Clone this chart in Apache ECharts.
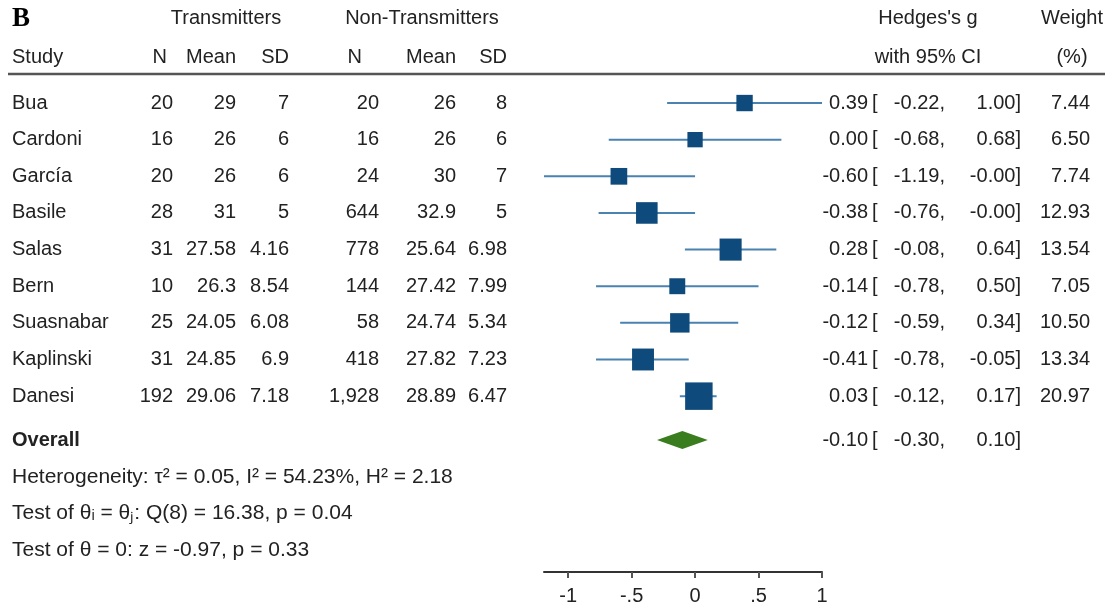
<!DOCTYPE html>
<html>
<head>
<meta charset="utf-8">
<script src="https://cdn.jsdelivr.net/npm/echarts@6/dist/echarts.min.js"></script>
<style>
  html, body { margin: 0; padding: 0; background: #fff; }
  #chart { width: 1113px; height: 608px; }
</style>
</head>
<body>
<div id="chart"></div>
<script>
// ---------- data ----------
const studies = ['Bua', 'Cardoni', 'García', 'Basile', 'Salas', 'Bern', 'Suasnabar', 'Kaplinski', 'Danesi'];
const transN = [20, 16, 20, 28, 31, 10, 25, 31, 192];
const transMean = [29, 26, 26, 31, 27.58, 26.3, 24.05, 24.85, 29.06];
const transSD = [7, 6, 6, 5, 4.16, 8.54, 6.08, 6.9, 7.18];
const nonN = [20, 16, 24, 644, 778, 144, 58, 418, 1928];
const nonMean = [26, 26, 30, 32.9, 25.64, 27.42, 24.74, 27.82, 28.89];
const nonSD = [8, 6, 7, 5, 6.98, 7.99, 5.34, 7.23, 6.47];
const hedgesG = [0.39, 0.00, -0.60, -0.38, 0.28, -0.14, -0.12, -0.41, 0.03];
const ciLow = [-0.22, -0.68, -1.19, -0.76, -0.08, -0.78, -0.59, -0.78, -0.12];
const ciHigh = [1.00, 0.68, -0.00, -0.00, 0.64, 0.50, 0.34, -0.05, 0.17];
const weights = [7.44, 6.50, 7.74, 12.93, 13.54, 7.05, 10.50, 13.34, 20.97];
const overallG = -0.10, overallLow = -0.30, overallHigh = 0.10;
const footerLines = [
  'Heterogeneity: τ² = 0.05, I² = 54.23%, H² = 2.18',
  'Test of θᵢ = θⱼ: Q(8) = 16.38, p = 0.04',
  'Test of θ = 0: z = -0.97, p = 0.33'
];
const xTicks = [-1, -0.5, 0, 0.5, 1];
const xTickLabels = ['-1', '-.5', '0', '.5', '1'];

// ---------- layout constants ----------
const FONT = '"Liberation Sans", Arial, sans-serif';
const FS = 20;
const TXT = '#222';
const overallRow = 9.2;
const footerRows = [10.2, 11.2, 12.2];

function fmt2(v) {
  if (v < 0 || Object.is(v, -0)) return '-' + Math.abs(v).toFixed(2);
  return v.toFixed(2);
}
function txt(x, y, s, align, opts) {
  opts = opts || {};
  return {
    type: 'text', x: x, y: y, silent: true,
    style: {
      text: s, align: align || 'left', verticalAlign: 'middle',
      font: (opts.weight || 'normal') + ' ' + (opts.size || FS) + 'px ' + (opts.family || FONT),
      fill: opts.color || TXT
    }
  };
}

const chart = echarts.init(document.getElementById('chart'), null, { renderer: 'canvas' });

const tableData = studies.map((s, i) => [0, i]);
const overallData = [[0, overallRow]];
const footerData = footerRows.map(r => [0, r]);

const option = {
  animation: false,
  backgroundColor: '#fff',
  grid: { left: 544, right: 291, top: 66.4, bottom: 36 },
  xAxis: {
    type: 'value', min: -1.19, max: 1.0, position: 'bottom',
    splitLine: { show: false },
    axisLine: { show: true, onZero: false, lineStyle: { color: '#333', width: 2 } },
    axisTick: { show: true, customValues: xTicks, length: 6, lineStyle: { color: '#555', width: 2 } },
    axisLabel: {
      customValues: xTicks, margin: 14, color: TXT, fontSize: FS, fontFamily: FONT,
      formatter: v => xTickLabels[xTicks.indexOf(v)]
    }
  },
  yAxis: { type: 'value', inverse: true, min: -1, max: 12.8, show: false },
  graphic: [
    txt(12, 19, 'B', 'left', { weight: 'bold', size: 27, family: '"Liberation Serif", serif', color: '#000' }),
    txt(226, 18, 'Transmitters', 'center'),
    txt(422, 18, 'Non-Transmitters', 'center'),
    txt(928, 18, "Hedges's g", 'center'),
    txt(1072, 18, 'Weight', 'center'),
    txt(12, 57, 'Study', 'left'),
    txt(167, 57, 'N', 'right'),
    txt(236, 57, 'Mean', 'right'),
    txt(289, 57, 'SD', 'right'),
    txt(362, 57, 'N', 'right'),
    txt(456, 57, 'Mean', 'right'),
    txt(507, 57, 'SD', 'right'),
    txt(928, 57, 'with 95% CI', 'center'),
    txt(1072, 57, '(%)', 'center'),
    { type: 'line', silent: true, shape: { x1: 8, y1: 74, x2: 1105, y2: 74 }, style: { stroke: '#555', lineWidth: 2.5 } }
  ],
  series: [
    { // confidence intervals
      type: 'custom', silent: true, clip: false,
      data: studies.map((s, i) => [ciLow[i], i, ciHigh[i]]),
      renderItem: (params, api) => {
        const a = api.coord([api.value(0), api.value(1)]);
        const b = api.coord([api.value(2), api.value(1)]);
        return { type: 'line', shape: { x1: a[0], y1: a[1], x2: b[0], y2: b[1] },
                 style: { stroke: '#4a82b0', lineWidth: 2 } };
      },
      z: 2
    },
    { // point estimates sized by weight
      type: 'scatter', silent: true, symbol: 'rect',
      data: studies.map((s, i) => [hedgesG[i], i, weights[i]]),
      symbolSize: v => 6 * Math.sqrt(v[2]),
      itemStyle: { color: '#0e4a7b', opacity: 1 },
      z: 3
    },
    { // overall diamond
      type: 'custom', silent: true, clip: false,
      data: [[overallLow, overallRow, overallG, overallHigh]],
      renderItem: (params, api) => {
        const l = api.coord([api.value(0), api.value(1)]);
        const c = api.coord([api.value(2), api.value(1)]);
        const r = api.coord([api.value(3), api.value(1)]);
        const h = 9;
        return { type: 'polygon',
                 shape: { points: [[l[0], l[1]], [c[0], c[1] - h], [r[0], r[1]], [c[0], c[1] + h]] },
                 style: { fill: '#3a7d1f' } };
      },
      z: 3
    },
    { // study text rows
      type: 'custom', silent: true, clip: false,
      data: tableData,
      renderItem: (params, api) => {
        const i = params.dataIndex;
        const y = api.coord([0, api.value(1)])[1];
        return { type: 'group', children: [
          txt(12, y, studies[i], 'left'),
          txt(173, y, String(transN[i]), 'right'),
          txt(236, y, String(transMean[i]), 'right'),
          txt(289, y, String(transSD[i]), 'right'),
          txt(379, y, nonN[i].toLocaleString('en-US'), 'right'),
          txt(456, y, String(nonMean[i]), 'right'),
          txt(507, y, String(nonSD[i]), 'right'),
          txt(868, y, fmt2(hedgesG[i]), 'right'),
          txt(872, y, '[', 'left'),
          txt(945, y, fmt2(ciLow[i]) + ',', 'right'),
          txt(1021, y, fmt2(ciHigh[i]) + ']', 'right'),
          txt(1090, y, weights[i].toFixed(2), 'right')
        ] };
      }
    },
    { // overall row text
      type: 'custom', silent: true, clip: false,
      data: overallData,
      renderItem: (params, api) => {
        const y = api.coord([0, api.value(1)])[1];
        return { type: 'group', children: [
          txt(12, y, 'Overall', 'left', { weight: 'bold' }),
          txt(868, y, fmt2(overallG), 'right'),
          txt(872, y, '[', 'left'),
          txt(945, y, fmt2(overallLow) + ',', 'right'),
          txt(1021, y, fmt2(overallHigh) + ']', 'right')
        ] };
      }
    },
    { // footer statistics
      type: 'custom', silent: true, clip: false,
      data: footerData,
      renderItem: (params, api) => {
        const y = api.coord([0, api.value(1)])[1];
        return txt(12, y, footerLines[params.dataIndex], 'left', { size: 21 });
      }
    }
  ]
};
chart.setOption(option);
</script>
</body>
</html>
